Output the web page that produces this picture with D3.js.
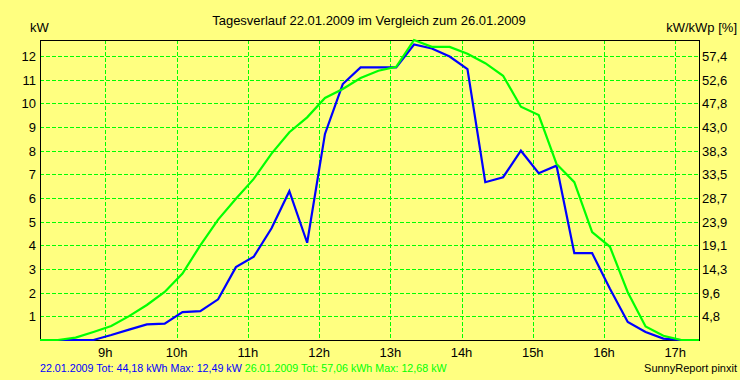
<!DOCTYPE html>
<html><head><meta charset="utf-8">
<script src="https://cdn.jsdelivr.net/npm/d3@7"></script>
<style>html,body{margin:0;padding:0;background:#FFFF80;overflow:hidden}</style>
</head><body><svg id="c" width="740" height="380"></svg>
<script>
const times = ["08:05","08:20","08:35","08:50","09:05","09:20","09:35","09:50","10:05","10:20","10:35","10:50",
  "11:05","11:20","11:35","11:50","12:05","12:20","12:35","12:50","13:05","13:20","13:35","13:50",
  "14:05","14:20","14:35","14:50","15:05","15:20","15:35","15:50","16:05","16:20","16:35","16:50","17:05","17:20"];
const series1Label = "22.01.2009 Tot: 44,18 kWh Max: 12,49 kW";
const series1 = [0,0,0,0,0.21,0.44,0.66,0.69,1.18,1.22,1.72,3.08,
  3.52,4.72,6.29,4.11,8.71,10.82,11.52,11.52,11.52,12.49,12.32,11.98,
  11.45,6.67,6.88,8.0,7.05,7.37,3.67,3.67,2.17,0.76,0.34,0.06,0,0];
const series2Label = "26.01.2009 Tot: 57,06 kWh Max: 12,68 kW";
const series2 = [0,0,0.1,0.34,0.59,1.01,1.48,2.03,2.81,4.0,5.09,5.97,
  6.81,7.88,8.78,9.41,10.23,10.61,11.07,11.38,11.55,12.68,12.39,12.39,
  12.1,11.7,11.17,9.86,9.51,7.44,6.67,4.56,3.94,2.02,0.57,0.18,0,0];
const yTicks = [1,2,3,4,5,6,7,8,9,10,11,12];
const yRightLabels = ["4,8","9,6","14,3","19,1","23,9","28,7","33,5","38,3","43,0","47,8","52,6","57,4"];
const xTicks = [9,10,11,12,13,14,15,16,17];
const xTickLabels = ["9h","10h","11h","12h","13h","14h","15h","16h","17h"];
const title = "Tagesverlauf 22.01.2009 im Vergleich zum 26.01.2009";
const leftUnit = "kW", rightUnit = "kW/kWp [%]", credit = "SunnyReport pinxit";

const font = "'Liberation Sans', Arial, sans-serif";
const svg = d3.select("#c");
svg.append("rect").attr("width",740).attr("height",380).attr("fill","#FFFF80");

const hours = times.map(t => { const [h,m] = t.split(":").map(Number); return h + m/60; });
const L = 40, R = 699, T = 40, B = 340;
const x = d3.scaleLinear().domain(d3.extent(hours)).range([L, R]);
const y = d3.scaleLinear().domain([0, d3.max(series2)]).range([B, T]);
const px = v => Math.round(v) + 0.5;

const grid = svg.append("g").attr("stroke","#00FF00").attr("stroke-width",1)
  .attr("stroke-dasharray","4,2").attr("shape-rendering","crispEdges");
grid.selectAll("line.h").data(yTicks).join("line").attr("class","h")
  .attr("x1",L).attr("x2",R).attr("y1",d=>px(y(d))).attr("y2",d=>px(y(d)));
grid.selectAll("line.v").data(xTicks).join("line").attr("class","v")
  .attr("x1",d=>px(x(d))).attr("x2",d=>px(x(d))).attr("y1",T).attr("y2",B);

svg.append("rect").attr("x",L+0.5).attr("y",T+0.5).attr("width",R-L).attr("height",B-T)
  .attr("fill","none").attr("stroke","#000").attr("stroke-width",1).attr("shape-rendering","crispEdges");

const line = d3.line().x((d,i)=>x(hours[i])).y(d=>y(d));
svg.append("path").datum(series1).attr("d",line).attr("fill","none")
  .attr("stroke","#0000FF").attr("stroke-width",2.2).attr("stroke-linejoin","miter");
svg.append("path").datum(series2).attr("d",line).attr("fill","none")
  .attr("stroke","#00FF00").attr("stroke-width",2.2).attr("stroke-linejoin","miter");

const txt = (xx, yy, s, anchor, size, color) => svg.append("text").attr("x",xx).attr("y",yy)
  .attr("text-anchor",anchor).attr("font-family",font).attr("font-size",size).attr("fill",color||"#000").text(s);

yTicks.forEach((v,i) => {
  txt(36, y(v)+5, String(v), "end", 13);
  txt(702, y(v)+5, yRightLabels[i], "start", 13);
});
xTicks.forEach((v,i) => txt(x(v), 357, xTickLabels[i], "middle", 13));

txt(369, 25, title, "middle", 13);
txt(30, 32, leftUnit, "start", 13);
txt(737, 32, rightUnit, "end", 13);

const leg = svg.append("text").attr("x",40).attr("y",372).attr("font-family",font).attr("font-size",10.7);
leg.append("tspan").attr("fill","#0000FF").text(series1Label + " ");
leg.append("tspan").attr("fill","#00FF00").text(series2Label);
txt(737, 372, credit, "end", 11);
</script></body></html>
